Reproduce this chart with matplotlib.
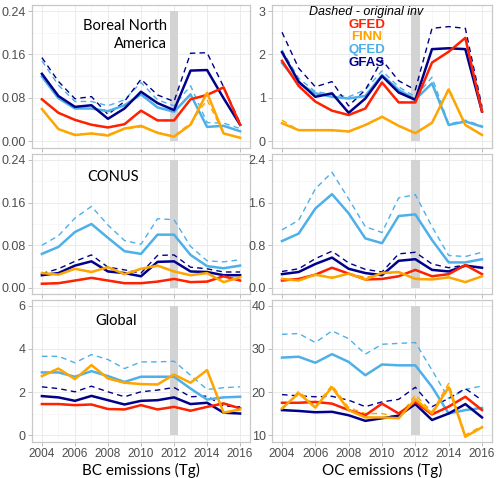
import matplotlib
matplotlib.use("Agg")
import matplotlib.pyplot as plt
import numpy as np

years = np.arange(2004, 2017)

# colours of the four inventories
c_gfed = "#FF2200"
c_finn = "#FFA500"
c_qfed = "#4EB0E8"
c_gfas = "#00008B"

# ---- BC, Boreal North America (Tg)
bna_bc_gfed = [0.077, 0.052, 0.039, 0.030, 0.025, 0.031, 0.056, 0.038, 0.038, 0.077, 0.085, 0.099, 0.030]
bna_bc_finn = [0.059, 0.022, 0.011, 0.014, 0.010, 0.023, 0.028, 0.015, 0.008, 0.030, 0.089, 0.014, 0.006]
bna_bc_finn0 = [0.059, 0.022, 0.012, 0.013, 0.012, 0.022, 0.026, 0.016, 0.009, 0.033, 0.076, 0.014, 0.006]
bna_bc_qfed = [0.119, 0.079, 0.060, 0.060, 0.055, 0.066, 0.086, 0.062, 0.054, 0.086, 0.026, 0.028, 0.018]
bna_bc_qfed0 = [0.148, 0.103, 0.073, 0.073, 0.065, 0.076, 0.108, 0.076, 0.065, 0.102, 0.034, 0.033, 0.023]
bna_bc_gfas = [0.124, 0.083, 0.063, 0.066, 0.041, 0.060, 0.091, 0.070, 0.057, 0.130, 0.131, 0.079, 0.030]
bna_bc_gfas0 = [0.154, 0.110, 0.078, 0.082, 0.049, 0.073, 0.114, 0.085, 0.073, 0.162, 0.163, 0.100, 0.033]

# ---- OC, Boreal North America (Tg)
bna_oc_gfed = [1.85, 1.27, 0.91, 0.70, 0.60, 0.75, 1.35, 0.89, 0.89, 1.81, 2.06, 2.38, 0.68]
bna_oc_finn = [0.41, 0.25, 0.25, 0.25, 0.22, 0.37, 0.56, 0.35, 0.18, 0.42, 1.19, 0.37, 0.14]
bna_oc_finn0 = [0.48, 0.25, 0.26, 0.24, 0.21, 0.36, 0.55, 0.36, 0.18, 0.42, 1.22, 0.38, 0.14]
bna_oc_qfed = [1.80, 1.33, 1.10, 1.02, 0.98, 1.04, 1.52, 1.18, 0.96, 1.33, 0.37, 0.45, 0.33]
bna_oc_qfed0 = [2.10, 1.45, 1.14, 1.08, 1.02, 1.18, 1.62, 1.25, 1.02, 1.47, 0.39, 0.48, 0.35]
bna_oc_gfas = [2.05, 1.37, 1.02, 1.10, 0.65, 0.98, 1.50, 1.12, 0.95, 2.12, 2.14, 2.12, 0.68]
bna_oc_gfas0 = [2.51, 1.68, 1.25, 1.37, 0.81, 1.18, 1.87, 1.39, 1.18, 2.60, 2.64, 2.60, 0.79]

# ---- BC, CONUS (Tg)
us_bc_gfed = [0.008, 0.009, 0.014, 0.019, 0.014, 0.009, 0.009, 0.012, 0.017, 0.011, 0.012, 0.022, 0.014]
us_bc_finn = [0.028, 0.025, 0.036, 0.030, 0.039, 0.026, 0.036, 0.042, 0.031, 0.024, 0.028, 0.011, 0.020]
us_bc_finn0 = [0.028, 0.025, 0.036, 0.030, 0.039, 0.026, 0.036, 0.042, 0.031, 0.024, 0.028, 0.012, 0.020]
us_bc_qfed = [0.064, 0.077, 0.105, 0.120, 0.094, 0.069, 0.064, 0.100, 0.100, 0.062, 0.041, 0.037, 0.042]
us_bc_qfed0 = [0.080, 0.098, 0.131, 0.153, 0.118, 0.089, 0.082, 0.130, 0.128, 0.078, 0.051, 0.049, 0.053]
us_bc_gfas = [0.024, 0.028, 0.042, 0.050, 0.031, 0.028, 0.022, 0.049, 0.050, 0.031, 0.030, 0.024, 0.024]
us_bc_gfas0 = [0.027, 0.036, 0.050, 0.062, 0.039, 0.034, 0.028, 0.061, 0.062, 0.039, 0.036, 0.030, 0.030]

# ---- OC, CONUS (Tg)
us_oc_gfed = [0.14, 0.17, 0.25, 0.38, 0.27, 0.16, 0.17, 0.22, 0.34, 0.22, 0.26, 0.43, 0.26]
us_oc_finn = [0.17, 0.14, 0.25, 0.19, 0.27, 0.16, 0.28, 0.30, 0.17, 0.16, 0.20, 0.11, 0.22]
us_oc_finn0 = [0.17, 0.15, 0.25, 0.20, 0.27, 0.20, 0.27, 0.29, 0.18, 0.16, 0.20, 0.11, 0.22]
us_oc_qfed = [0.88, 1.02, 1.49, 1.76, 1.40, 0.93, 0.84, 1.35, 1.38, 0.90, 0.48, 0.48, 0.54]
us_oc_qfed0 = [1.09, 1.27, 1.86, 2.17, 1.67, 1.15, 1.04, 1.69, 1.75, 1.15, 0.61, 0.59, 0.67]
us_oc_gfas = [0.26, 0.30, 0.45, 0.57, 0.36, 0.28, 0.24, 0.51, 0.54, 0.34, 0.31, 0.42, 0.38]
us_oc_gfas0 = [0.31, 0.36, 0.55, 0.69, 0.47, 0.35, 0.30, 0.64, 0.67, 0.45, 0.38, 0.43, 0.37]

# ---- BC, Global (Tg)
gl_bc_gfed = [1.44, 1.44, 1.39, 1.42, 1.21, 1.19, 1.39, 1.19, 1.31, 1.13, 1.31, 1.47, 1.24]
gl_bc_finn = [2.74, 3.09, 2.60, 3.25, 2.63, 2.43, 2.37, 2.35, 2.81, 2.43, 3.02, 1.04, 1.19]
gl_bc_finn0 = [2.74, 3.09, 2.60, 3.25, 2.63, 2.43, 2.37, 2.35, 2.81, 2.43, 3.02, 1.04, 1.19]
gl_bc_qfed = [2.91, 2.91, 2.71, 2.97, 2.74, 2.47, 2.71, 2.71, 2.71, 2.16, 1.65, 1.75, 1.78]
gl_bc_qfed0 = [3.66, 3.66, 3.36, 3.74, 3.51, 3.09, 3.40, 3.40, 3.43, 2.78, 2.12, 2.20, 2.24]
gl_bc_gfas = [1.81, 1.75, 1.59, 1.82, 1.62, 1.42, 1.59, 1.62, 1.75, 1.44, 1.50, 1.04, 1.00]
gl_bc_gfas0 = [2.24, 2.16, 2.01, 2.27, 2.01, 1.78, 2.01, 2.09, 2.21, 1.78, 1.81, 1.35, 1.31]

# ---- OC, Global (Tg)
gl_oc_gfed = [17.5, 17.5, 17.7, 17.3, 15.8, 14.6, 17.3, 15.0, 17.7, 14.8, 16.6, 18.9, 15.8]
gl_oc_finn = [16.2, 19.7, 16.4, 21.1, 15.8, 14.1, 14.1, 13.9, 18.3, 15.0, 21.1, 9.6, 11.8]
gl_oc_finn0 = [15.8, 20.2, 16.7, 21.6, 16.4, 15.0, 15.0, 14.1, 19.3, 15.4, 22.0, 10.0, 12.1]
gl_oc_qfed = [28.0, 28.2, 26.8, 28.8, 27.0, 23.9, 26.4, 26.2, 26.2, 21.2, 15.0, 15.8, 16.3]
gl_oc_qfed0 = [33.4, 33.6, 31.5, 34.2, 32.4, 28.8, 31.1, 31.3, 31.5, 25.1, 18.5, 20.6, 21.4]
gl_oc_gfas = [15.8, 15.6, 15.3, 15.4, 14.6, 13.3, 13.9, 14.5, 17.2, 13.5, 15.0, 17.2, 14.1]
gl_oc_gfas0 = [19.4, 19.1, 18.9, 19.0, 18.1, 16.6, 17.7, 18.3, 21.1, 16.6, 18.5, 20.8, 18.1]


def draw_panel(ax, gfed, finn, finn0, qfed, qfed0, gfas, gfas0,
               ylo, yhi, yticks, ylabels, bottom_row):
    pad = 0.05 * (yhi - ylo)
    ax.set_ylim(ylo - pad, yhi + pad)
    ax.set_xlim(2004 - 0.6, 2016 + 0.6)

    # grid like ggplot theme_light
    ax.set_xticks(np.arange(2004, 2017, 2))
    ax.set_xticks(np.arange(2005, 2016, 2), minor=True)
    ax.set_yticks(yticks)
    ax.set_yticks(np.array(yticks[:-1]) + (yticks[1] - yticks[0]) / 2, minor=True)
    ax.set_yticklabels(ylabels)
    ax.grid(True, which="major", color="#EBEBEB", lw=0.7)
    ax.grid(True, which="minor", color="#F4F4F4", lw=0.5)
    ax.set_axisbelow(True)
    for s in ax.spines.values():
        s.set_color("#C8C8C8")
        s.set_linewidth(0.9)
    ax.tick_params(which="major", color="#B3B3B3", length=3, width=0.6,
                   labelsize=8.5, labelcolor="#4D4D4D", pad=1.5)
    ax.tick_params(axis="y", labelsize=9)
    ax.tick_params(which="minor", length=0)
    if not bottom_row:
        ax.set_xticklabels([])

    # year 2012 marker
    ax.bar(2012, yhi - ylo, bottom=ylo, width=0.5, color="#D3D3D3", zorder=1)

    # dashed = original inventory
    ax.plot(years, qfed0, color=c_qfed, lw=1.0, ls=(0, (4, 3)), zorder=2)
    ax.plot(years, gfas0, color=c_gfas, lw=1.0, ls=(0, (4, 3)), zorder=2)
    ax.plot(years, finn0, color=c_finn, lw=1.0, ls=(0, (4, 3)), zorder=2)
    ax.plot(years, gfed, color=c_gfed, lw=1.0, ls=(0, (4, 3)), zorder=2)

    ax.plot(years, qfed, color=c_qfed, lw=1.8, zorder=3)
    ax.plot(years, gfas, color=c_gfas, lw=1.8, zorder=3)
    ax.plot(years, gfed, color=c_gfed, lw=1.8, zorder=3)
    ax.plot(years, finn, color=c_finn, lw=1.8, zorder=3)


fig = plt.figure(figsize=(5, 4.78), dpi=100)

W, H = 500.0, 478.0
left_x = (32 / W, 218 / W)
right_x = (272 / W, 220 / W)
rows = [(4.5, 147.5), (153.6, 294.4), (299.5, 441.5)]


def rect(col, row):
    top, bot = rows[row]
    return [col[0], 1 - bot / H, col[1], (bot - top) / H]


ax1 = fig.add_axes(rect(left_x, 0))
draw_panel(ax1, bna_bc_gfed, bna_bc_finn, bna_bc_finn0, bna_bc_qfed, bna_bc_qfed0,
           bna_bc_gfas, bna_bc_gfas0, 0, 0.24, [0, 0.08, 0.16, 0.24],
           ["0.00", "0.08", "0.16", "0.24"], False)
ax2 = fig.add_axes(rect(right_x, 0))
draw_panel(ax2, bna_oc_gfed, bna_oc_finn, bna_oc_finn0, bna_oc_qfed, bna_oc_qfed0,
           bna_oc_gfas, bna_oc_gfas0, 0, 3, [0, 1, 2, 3],
           ["0", "1", "2", "3"], False)
ax3 = fig.add_axes(rect(left_x, 1))
draw_panel(ax3, us_bc_gfed, us_bc_finn, us_bc_finn0, us_bc_qfed, us_bc_qfed0,
           us_bc_gfas, us_bc_gfas0, 0, 0.24, [0, 0.08, 0.16, 0.24],
           ["0.00", "0.08", "0.16", "0.24"], False)
ax4 = fig.add_axes(rect(right_x, 1))
draw_panel(ax4, us_oc_gfed, us_oc_finn, us_oc_finn0, us_oc_qfed, us_oc_qfed0,
           us_oc_gfas, us_oc_gfas0, 0, 2.4, [0, 0.8, 1.6, 2.4],
           ["0.0", "0.8", "1.6", "2.4"], False)
ax5 = fig.add_axes(rect(left_x, 2))
draw_panel(ax5, gl_bc_gfed, gl_bc_finn, gl_bc_finn0, gl_bc_qfed, gl_bc_qfed0,
           gl_bc_gfas, gl_bc_gfas0, 0, 6, [0, 2, 4, 6],
           ["0", "2", "4", "6"], True)
ax6 = fig.add_axes(rect(right_x, 2))
draw_panel(ax6, gl_oc_gfed, gl_oc_finn, gl_oc_finn0, gl_oc_qfed, gl_oc_qfed0,
           gl_oc_gfas, gl_oc_gfas0, 10, 40, [10, 20, 30, 40],
           ["10", "20", "30", "40"], True)

for ax in (ax1, ax2, ax3, ax4, ax5, ax6):
    for lab in ax.get_xticklabels() + ax.get_yticklabels():
        lab.set_family("Liberation Sans")

# region labels
ax1.text(0.62, 0.785, "Boreal North\nAmerica", transform=ax1.transAxes, ha="right",
         va="center", fontsize=10.5, family="Lato", linespacing=1.4)
ax3.text(0.37, 0.835, "CONUS", transform=ax3.transAxes, ha="center", va="center",
         fontsize=10.5, family="Lato")
ax5.text(0.385, 0.85, "Global", transform=ax5.transAxes, ha="center", va="center",
         fontsize=10.5, family="Lato")

# legend written as coloured text
ax2.text(0.43, 0.95, "Dashed - original inv", transform=ax2.transAxes, ha="center",
         va="center", fontsize=9, style="italic", family="Liberation Sans", zorder=6)
for i, (name, col) in enumerate([("GFED", c_gfed), ("FINN", c_finn),
                                 ("QFED", c_qfed), ("GFAS", c_gfas)]):
    ax2.text(0.43, 0.86 - i * 0.09, name, transform=ax2.transAxes, ha="center",
             va="center", fontsize=9.5, weight="bold", color=col,
             family="Liberation Sans", zorder=6)

ax5.set_xlabel("BC emissions (Tg)", fontsize=11, family="Lato", labelpad=2)
ax6.set_xlabel("OC emissions (Tg)", fontsize=11, family="Lato", labelpad=2)

fig.savefig("out.png", dpi=100)
